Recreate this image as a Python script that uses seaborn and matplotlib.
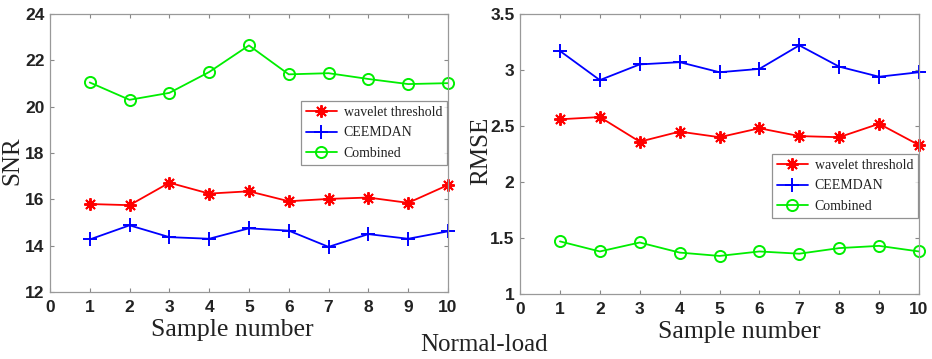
import matplotlib
matplotlib.use("Agg")
import matplotlib.pyplot as plt
import seaborn as sns
import pandas as pd
import numpy as np

samples = [1, 2, 3, 4, 5, 6, 7, 8, 9, 10]
series_names = ["wavelet threshold", "CEEMDAN", "Combined"]

snr_wavelet = [15.8, 15.75, 16.72, 16.25, 16.35, 15.92, 16.02, 16.08, 15.85, 16.62]
snr_ceemdan = [14.27, 14.88, 14.37, 14.3, 14.75, 14.65, 13.95, 14.5, 14.3, 14.62]
snr_combined = [21.05, 20.3, 20.6, 21.5, 22.65, 21.4, 21.45, 21.2, 20.98, 21.02]

rmse_wavelet = [2.56, 2.58, 2.36, 2.45, 2.40, 2.48, 2.41, 2.40, 2.52, 2.33]
rmse_ceemdan = [3.17, 2.91, 3.05, 3.07, 2.98, 3.01, 3.22, 3.03, 2.94, 2.98]
rmse_combined = [1.47, 1.38, 1.46, 1.37, 1.34, 1.38, 1.36, 1.41, 1.43, 1.38]

x_ticks = [0, 1, 2, 3, 4, 5, 6, 7, 8, 9, 10]
snr_ticks = [12, 14, 16, 18, 20, 22, 24]
rmse_ticks = [1, 1.5, 2, 2.5, 3, 3.5]
rmse_ticklabels = ["1", "1.5", "2", "2.5", "3", "3.5"]

sns.set_theme(style="white")
plt.rcParams['font.family'] = ['Liberation Sans', 'DejaVu Sans']

colors = {"wavelet threshold": "#ff0000", "CEEMDAN": "#0000ff", "Combined": "#00ee00"}
markers = {"wavelet threshold": (8, 2, 0), "CEEMDAN": "+", "Combined": "o"}
msizes = {"wavelet threshold": 9, "CEEMDAN": 10, "Combined": 8}

fig = plt.figure(figsize=(9.32, 3.59), dpi=100)
ax1 = fig.add_axes([0.0536, 0.1866, 0.427, 0.774])
ax2 = fig.add_axes([0.558, 0.181, 0.428, 0.780])

def draw(ax, vals, yticks, yticklabels, ylabel, legend_anchor, xlabel_x, ylabel_xy):
    for name, v in zip(series_names, vals):
        df = pd.DataFrame({"Sample": samples, "Value": v})
        kw = dict(marker=markers[name], markersize=msizes[name], color=colors[name],
                  linewidth=1.3, label=name, markeredgewidth=1.4, clip_on=False)
        if name == "Combined":
            kw["markerfacecolor"] = "none"
            kw["markeredgecolor"] = colors[name]
        else:
            kw["markeredgecolor"] = colors[name]
        sns.lineplot(data=df, x="Sample", y="Value", ax=ax, **kw)
    ax.set_xlim(0, 10)
    ax.set_ylim(yticks[0], yticks[-1])
    ax.set_xticks(x_ticks)
    ax.set_xticklabels([str(t) for t in x_ticks])
    ax.set_yticks(yticks)
    ax.set_yticklabels(yticklabels)
    for lab in ax.get_xticklabels() + ax.get_yticklabels():
        lab.set_fontweight("bold")
        lab.set_fontsize(12.5)
        lab.set_color("#222222")
    ax.tick_params(direction="in", length=3, width=0.8, color="#888888",
                   top=True, right=True, bottom=True, left=True)
    ax.tick_params(axis="x", pad=6)
    ax.tick_params(axis="y", pad=4)
    for s in ax.spines.values():
        s.set_color("#999999")
        s.set_linewidth(0.9)
    ax.set_xlabel("Sample number", family=["Liberation Serif"], fontsize=18.5, color="#222222")
    ax.xaxis.set_label_coords(xlabel_x, -0.137)
    ax.xaxis.label.set_va("center")
    ax.set_ylabel(ylabel, family=["Liberation Serif"], fontsize=18, color="#222222")
    ax.yaxis.set_label_coords(*ylabel_xy)
    ax.yaxis.label.set_va("center")
    leg = ax.legend(loc="upper right", bbox_to_anchor=legend_anchor, bbox_transform=fig.transFigure,
                    prop={"family": "Liberation Serif", "size": 10}, frameon=True, fancybox=False,
                    handlelength=2.2, handletextpad=0.5, borderpad=0.35, labelspacing=0.55,
                    borderaxespad=0)
    leg.get_frame().set_edgecolor("#777777")
    leg.get_frame().set_linewidth(0.9)
    for t in leg.get_texts():
        t.set_color("#222222")

draw(ax1, [snr_wavelet, snr_ceemdan, snr_combined], snr_ticks, [str(t) for t in snr_ticks], "SNR",
     (447 / 932, 1 - 101 / 359), 0.457, (-0.094, 0.471))
draw(ax2, [rmse_wavelet, rmse_ceemdan, rmse_combined], rmse_ticks, rmse_ticklabels, "RMSE",
     (918 / 932, 1 - 154 / 359), 0.549, (-0.098, 0.511))

fig.text(484 / 932, 1 - 345 / 359, "Normal-load", ha="center", va="center",
         family=["Liberation Serif"], fontsize=18, color="#222222")

fig.savefig("out.png", dpi=100)
